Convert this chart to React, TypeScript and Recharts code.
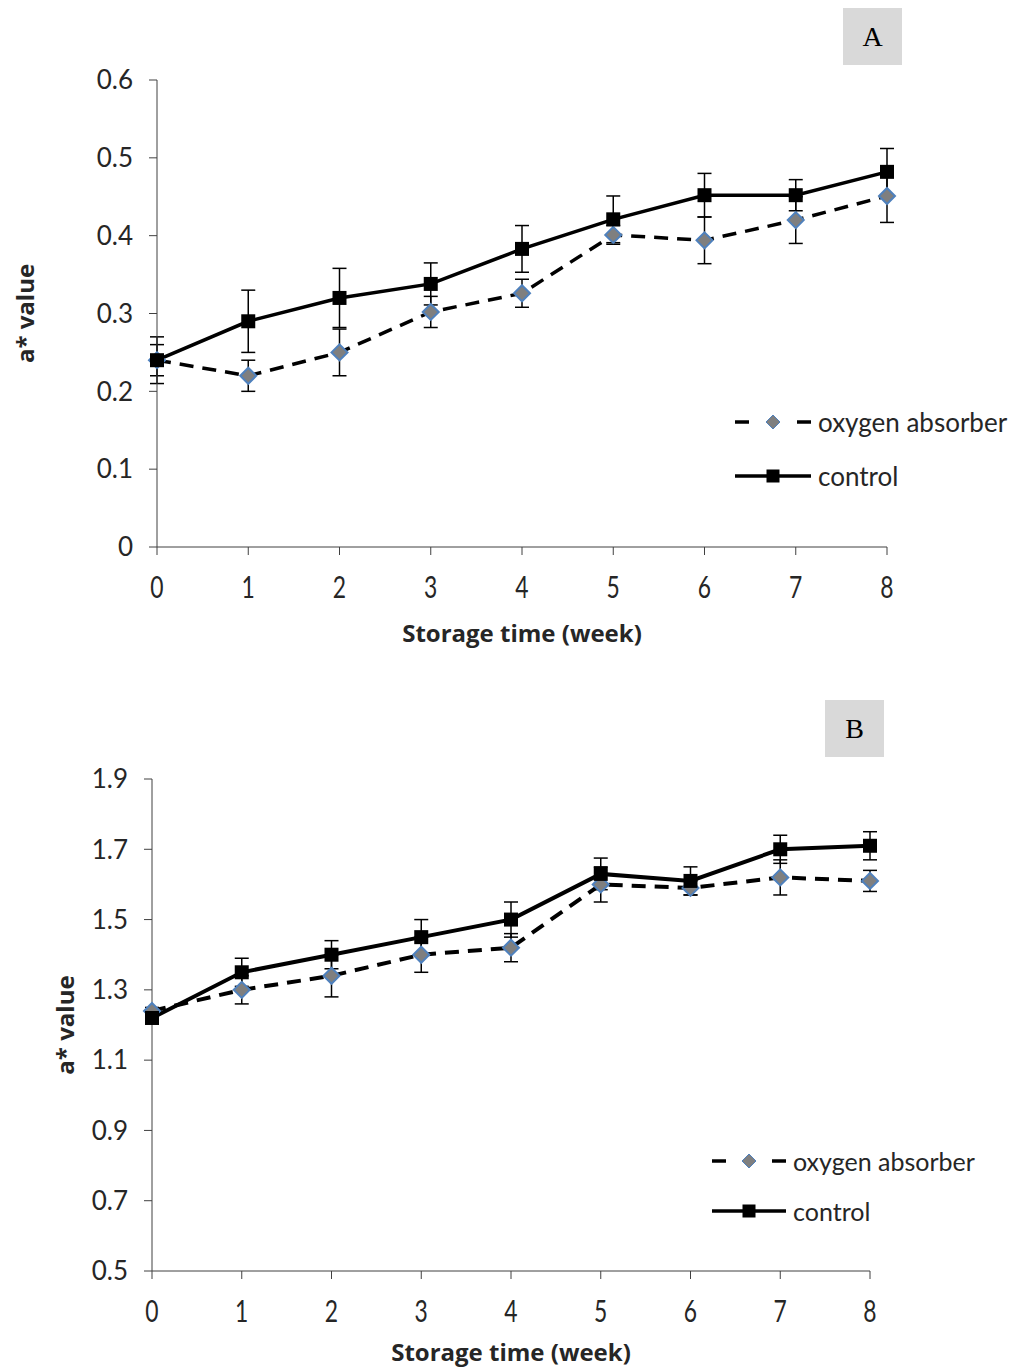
import { ErrorBar, Legend, Line, LineChart, XAxis, YAxis } from "recharts";

const FONT = "Lato, 'Open Sans', sans-serif";
const TITLE_FONT = "'Open Sans', Lato, sans-serif";
const TEXT = "#262626";
const AXIS = "#404040";

const WEEKS = [0, 1, 2, 3, 4, 5, 6, 7, 8];

// panel A
const A_CONTROL = [0.24, 0.29, 0.32, 0.338, 0.383, 0.421, 0.452, 0.452, 0.482];
const A_CONTROL_ERR = [0.03, 0.04, 0.038, 0.027, 0.03, 0.03, 0.028, 0.02, 0.03];
const A_OXYGEN = [0.24, 0.22, 0.25, 0.302, 0.326, 0.401, 0.394, 0.42, 0.451];
const A_OXYGEN_ERR = [0.02, 0.02, 0.03, 0.02, 0.018, 0.012, 0.03, 0.03, 0.034];
const A_TICKS = [0, 0.1, 0.2, 0.3, 0.4, 0.5, 0.6];

// panel B
const B_CONTROL = [1.22, 1.35, 1.4, 1.45, 1.5, 1.63, 1.61, 1.7, 1.71];
const B_CONTROL_ERR = [0.01, 0.04, 0.04, 0.05, 0.05, 0.045, 0.04, 0.04, 0.04];
const B_OXYGEN = [1.24, 1.3, 1.34, 1.4, 1.42, 1.6, 1.59, 1.62, 1.61];
const B_OXYGEN_ERR = [0.01, 0.04, 0.06, 0.05, 0.04, 0.05, 0.02, 0.05, 0.03];
const B_TICKS = [0.5, 0.7, 0.9, 1.1, 1.3, 1.5, 1.7, 1.9];

type Row = {
  week: number;
  control: number;
  controlErr: number;
  oxygen: number;
  oxygenErr: number;
};

function buildRows(control: number[], controlErr: number[], oxygen: number[], oxygenErr: number[]): Row[] {
  return WEEKS.map((week, i) => ({
    week,
    control: control[i],
    controlErr: controlErr[i],
    oxygen: oxygen[i],
    oxygenErr: oxygenErr[i],
  }));
}

const SquareDot = (props: any) => {
  const { cx, cy, index } = props;
  if (cx == null || cy == null) return <g key={`sq-${index}`} />;
  return <rect key={`sq-${index}`} x={cx - 7} y={cy - 7} width={14} height={14} fill="#000" />;
};

const DiamondDot = (props: any) => {
  const { cx, cy, index } = props;
  if (cx == null || cy == null) return <g key={`dm-${index}`} />;
  const s = 8;
  return (
    <polygon
      key={`dm-${index}`}
      points={`${cx},${cy - s} ${cx + s},${cy} ${cx},${cy + s} ${cx - s},${cy}`}
      fill="#7f7f7f"
      stroke="#4f81bd"
      strokeWidth={2}
    />
  );
};

// week labels are tall and narrow in the original
const WeekTick = (props: any) => {
  const { x, y, payload } = props;
  return (
    <g transform={`translate(${x},${y + 30})`}>
      <text
        transform="scale(0.88,1.15)"
        textAnchor="middle"
        fontSize={26}
        fontFamily={FONT}
        fill={TEXT}
        dy="0.36em"
      >
        {payload.value}
      </text>
    </g>
  );
};

function LegendBox({ rowHeight, iconWidth, fontSize }: { rowHeight: number; iconWidth: number; fontSize: number }) {
  const mid = iconWidth / 2;
  return (
    <div style={{ fontFamily: FONT, fontSize, color: TEXT, lineHeight: 1 }}>
      <div style={{ display: "flex", alignItems: "center", height: rowHeight }}>
        <svg width={iconWidth} height={20} style={{ display: "block" }}>
          <line x1={0} y1={10} x2={14} y2={10} stroke="#000" strokeWidth={3.5} />
          <polygon
            points={`${mid},3 ${mid + 7},10 ${mid},17 ${mid - 7},10`}
            fill="#7f7f7f"
            stroke="#4f81bd"
            strokeWidth={1}
          />
          <line x1={iconWidth - 14} y1={10} x2={iconWidth} y2={10} stroke="#000" strokeWidth={3.5} />
        </svg>
        <span style={{ marginLeft: 7 }}>oxygen absorber</span>
      </div>
      <div style={{ display: "flex", alignItems: "center", height: rowHeight }}>
        <svg width={iconWidth} height={20} style={{ display: "block" }}>
          <line x1={0} y1={10} x2={iconWidth} y2={10} stroke="#000" strokeWidth={3.5} />
          <rect x={mid - 6.5} y={3.5} width={13} height={13} fill="#000" />
        </svg>
        <span style={{ marginLeft: 7 }}>control</span>
      </div>
    </div>
  );
}

const fmtTick = (v: number) => (v === 0 ? "0" : v.toFixed(1));

type PanelProps = {
  rows: Row[];
  domain: [number, number];
  ticks: number[];
  top: number;
  height: number;
  margin: { top: number; right: number; bottom: number; left: number };
  yAxisWidth: number;
  xAxisHeight: number;
  yLabelOffset: number;
  legendPos: { left: number; top: number };
  legendRow: number;
  legendIcon: number;
  legendFont: number;
  strokeWidth: number;
  tag: string;
  tagPos: { left: number; top: number };
};

function Panel(p: PanelProps) {
  return (
    <>
      <div style={{ position: "absolute", left: 0, top: p.top }}>
        <LineChart width={1018} height={p.height} data={p.rows} margin={p.margin}>
          <XAxis
            dataKey="week"
            type="number"
            domain={[0, 8]}
            ticks={WEEKS}
            interval={0}
            stroke={AXIS}
            tickSize={8}
            height={p.xAxisHeight}
            tick={WeekTick}
            label={{
              value: "Storage time (week)",
              position: "insideBottom",
              offset: 0,
              fill: TEXT,
              fontSize: 24,
              fontWeight: 700,
              fontFamily: TITLE_FONT,
            }}
          />
          <YAxis
            type="number"
            domain={p.domain}
            ticks={p.ticks}
            interval={0}
            width={p.yAxisWidth}
            stroke={AXIS}
            tickSize={8}
            tickMargin={16}
            tickFormatter={fmtTick}
            tick={{ fontSize: 26, fill: TEXT, fontFamily: FONT }}
            label={{
              value: "a* value",
              angle: -90,
              position: "insideLeft",
              offset: p.yLabelOffset,
              fill: TEXT,
              fontSize: 24,
              fontWeight: 700,
              fontFamily: TITLE_FONT,
              style: { textAnchor: "middle" },
            }}
          />
          <Legend
            layout="vertical"
            align="center"
            verticalAlign="middle"
            wrapperStyle={{ left: p.legendPos.left, top: p.legendPos.top, width: 300 }}
            content={() => (
              <LegendBox rowHeight={p.legendRow} iconWidth={p.legendIcon} fontSize={p.legendFont} />
            )}
          />
          <Line
            dataKey="oxygen"
            name="oxygen absorber"
            type="linear"
            stroke="#000"
            strokeWidth={p.strokeWidth}
            strokeDasharray="14 9"
            dot={DiamondDot}
            activeDot={false}
            isAnimationActive={false}
          >
            <ErrorBar dataKey="oxygenErr" direction="y" width={7} stroke="#000" strokeWidth={1.5} />
          </Line>
          <Line
            dataKey="control"
            name="control"
            type="linear"
            stroke="#000"
            strokeWidth={p.strokeWidth}
            dot={SquareDot}
            activeDot={false}
            isAnimationActive={false}
          >
            <ErrorBar dataKey="controlErr" direction="y" width={7} stroke="#000" strokeWidth={1.5} />
          </Line>
        </LineChart>
      </div>
      <div
        style={{
          position: "absolute",
          left: p.tagPos.left,
          top: p.tagPos.top,
          width: 59,
          height: 57,
          background: "#d9d9d9",
          display: "flex",
          alignItems: "center",
          justifyContent: "center",
          fontFamily: "'Liberation Serif', 'Times New Roman', serif",
          fontSize: 28,
          color: "#000",
        }}
      >
        {p.tag}
      </div>
    </>
  );
}

export default function App() {
  const rowsA = buildRows(A_CONTROL, A_CONTROL_ERR, A_OXYGEN, A_OXYGEN_ERR);
  const rowsB = buildRows(B_CONTROL, B_CONTROL_ERR, B_OXYGEN, B_OXYGEN_ERR);
  return (
    <div
      style={{
        position: "absolute",
        left: 0,
        top: 0,
        width: 1018,
        height: 1369,
        background: "#fff",
        fontFamily: FONT,
      }}
    >
      <Panel
        rows={rowsA}
        domain={[0, 0.6]}
        ticks={A_TICKS}
        top={0}
        height={660}
        margin={{ top: 80, right: 131, bottom: 18, left: 17 }}
        yAxisWidth={140}
        xAxisHeight={95}
        yLabelOffset={8}
        legendPos={{ left: 735, top: 395 }}
        legendRow={54}
        legendIcon={76}
        legendFont={26}
        strokeWidth={3.5}
        tag="A"
        tagPos={{ left: 843, top: 8 }}
      />
      <Panel
        rows={rowsB}
        domain={[0.5, 1.9]}
        ticks={B_TICKS}
        top={690}
        height={679}
        margin={{ top: 89, right: 148, bottom: 8, left: 17 }}
        yAxisWidth={135}
        xAxisHeight={90}
        yLabelOffset={48}
        legendPos={{ left: 712, top: 446 }}
        legendRow={50}
        legendIcon={74}
        legendFont={25}
        strokeWidth={4}
        tag="B"
        tagPos={{ left: 825, top: 700 }}
      />
    </div>
  );
}
